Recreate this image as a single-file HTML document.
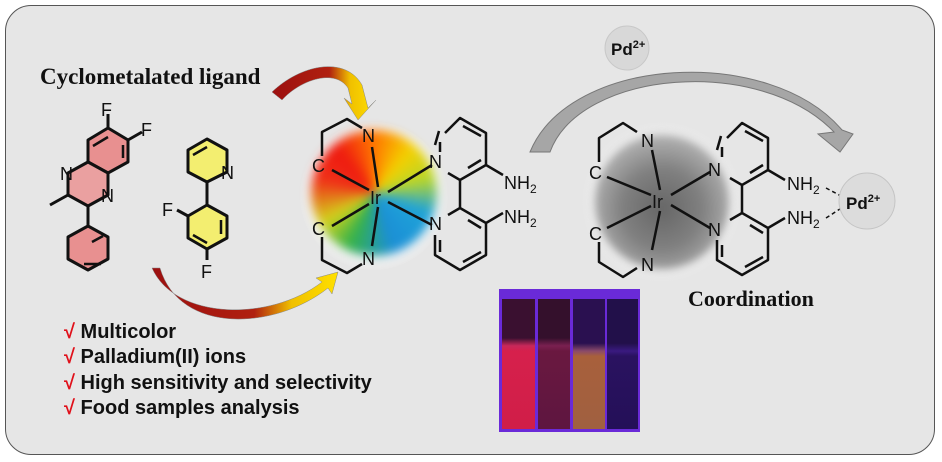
<!DOCTYPE html>
<html><head><meta charset="utf-8"><style>
html,body{margin:0;padding:0;background:#fff;}
#w{position:relative;width:942px;height:462px;overflow:hidden;background:#fff;font-family:"Liberation Sans",sans-serif;}
.abs{position:absolute;}
</style></head><body><div id="w">
<div class="abs" style="left:5px;top:5px;width:928px;height:448px;border:1.5px solid #555;border-radius:26px;background:#e6e6e6;"></div>
<div class="abs" style="left:300px;top:122px;width:148px;height:148px;border-radius:50%;background:radial-gradient(circle,#f4f4f4 60%,rgba(240,240,240,0) 72%);"></div>
<div class="abs" style="left:311px;top:130px;width:126px;height:126px;border-radius:50%;background:conic-gradient(from 0deg,#f70 0deg,#f4d000 40deg,#b9d62a 75deg,#1fa3d8 110deg,#1b8fd6 160deg,#35b24a 205deg,#d3d21c 240deg,#f03018 285deg,#ee1a10 320deg,#f70 360deg);filter:blur(5px);"></div>
<div class="abs" style="left:582px;top:122px;width:160px;height:160px;border-radius:50%;background:radial-gradient(circle,#ececec 55%,rgba(230,230,230,0) 72%);"></div>
<div class="abs" style="left:595px;top:135px;width:134px;height:134px;border-radius:50%;background:radial-gradient(circle at 50% 55%,#666 0%,#808080 40%,#b5b5b5 75%,#dcdcdc 100%);filter:blur(4px);"></div>
<div class="abs" style="left:499px;top:289px;width:141px;height:143px;background:#6a2ad8;">
 <div class="abs" style="left:3px;top:10px;width:33px;height:130px;background:linear-gradient(#3a1030 0,#3a1030 30%,#c8285a 36%,#d6204c 40%,#d01e48 100%);"></div>
 <div class="abs" style="left:39px;top:10px;width:32px;height:130px;background:linear-gradient(#34102c 0,#34102c 30%,#7a2050 36%,#6a1840 40%,#5e1640 100%);"></div>
 <div class="abs" style="left:74px;top:10px;width:32px;height:130px;background:linear-gradient(#2a1050 0,#2a1050 34%,#8a4a6a 40%,#a8603c 44%,#a06040 100%);"></div>
 <div class="abs" style="left:108px;top:10px;width:31px;height:130px;background:linear-gradient(#22104a 0,#22104a 34%,#3a1a80 40%,#2a1260 44%,#241058 100%);"></div>
</div>
<svg class="abs" style="left:0;top:0" width="942" height="462" viewBox="0 0 942 462">
<defs>
<linearGradient id="ry1" x1="0" y1="0" x2="1" y2="0"><stop offset="0" stop-color="#9c1010"/><stop offset="0.55" stop-color="#b02010"/><stop offset="0.75" stop-color="#f0c000"/><stop offset="1" stop-color="#ffe000"/></linearGradient>
</defs>
<path d="M272,92 C300,65 345,55 362,85 L368,108 L376,100 L358,120 L344,98 L352,104 L348,88 C335,68 300,80 282,100 Z" fill="url(#ry1)" stroke="#888" stroke-width="0.5"/>
<path d="M152,268 C175,320 270,322 322,282 L316,278 L338,272 L332,294 L328,288 C275,330 180,335 160,268 Z" fill="url(#ry1)" stroke="#888" stroke-width="0.5"/>
<path d="M550,152 C580,70 760,55 834,132 L818,134 L840,152 L853,134 L842,130 C770,45 570,55 530,152 Z" fill="#a6a6a6" stroke="#777" stroke-width="1"/>
<circle cx="627" cy="48" r="22" fill="#d8d8d8" stroke="#c8c8c8"/>
<text x="611" y="55" font-size="17" font-weight="bold" fill="#111">Pd<tspan font-size="11" dy="-7">2+</tspan></text>
<g fill="none" stroke="#111" stroke-width="3" stroke-linejoin="round">
<polygon points="88,140 108,128 128,140 128,162 108,173 88,162" fill="#e89090" stroke="#111"/>
<polygon points="88,162 108,173 108,195 88,206 68,195 68,173" fill="#eaa0a0"/>
<polygon points="88,226 108,237 108,259 88,270 68,259 68,237" fill="#e89090"/>
<path d="M108,128 V114 M128,140 L142,132 M68,195 L50,205 M88,206 V226"/>
<path d="M93,146 L108,137 M123,145 V158 M92,242 L103,236 M101,264 L84,264" stroke-width="2.5"/>
<polygon points="188,150 207,139 227,150 227,172 207,182 188,172" fill="#f3ee70"/>
<polygon points="188,216 207,205 227,216 227,238 207,249 188,238" fill="#f3ee70"/>
<path d="M207,182 V205 M188,216 L177,210 M207,249 V260"/>
<path d="M193,155 L207,147 M221,220 V234 M193,235 L207,243" stroke-width="2.5"/>
<g stroke-width="2.5">
<path d="M322,156 V132 L347,119 L362,128 M322,237 V260 L347,273 L362,264"/>
<path d="M378,187 L372,147 M378,207 L372,246 M332,170 L369,190 M332,226 L369,204 M388,192 L432,165 M388,202 L432,225"/>
</g>
<g transform="translate(-282,-5)" stroke-width="2.5">
<path d="M727,138 L742,123 L768,138 L768,170 L742,185 L730,178 M742,185 V213 M742,213 L768,228 L768,260 L742,275 L717,260 L717,240 M730,220 L742,213 M721,136 L717,150 M768,170 L785,180 M768,228 L785,218"/>
<path d="M745,131 L763,141 M763,165 L750,173 M763,233 L750,225 M745,267 L763,257 M722,245 V257 M722,147 V157"/>
</g>
<g stroke-width="2.5">
<path d="M599,162 V138 L623,123 L637,132 M599,242 V262 L623,277 L637,268"/>
<path d="M660,190 L652,150 M660,211 L652,250 M607,177 L651,195 M607,228 L651,206 M671,195 L710,172 M671,205 L710,228"/>
<path d="M727,138 L742,123 L768,138 L768,170 L742,185 L730,178 M742,185 V213 M742,213 L768,228 L768,260 L742,275 L717,260 L717,240 M730,220 L742,213 M721,136 L717,150 M768,170 L785,180 M768,228 L785,218"/>
<path d="M745,131 L763,141 M763,165 L750,173 M763,233 L750,225 M745,267 L763,257 M722,245 V257 M722,147 V157"/>
</g>
<path d="M826,188 L843,197 M826,218 L843,207" stroke-width="1.5" stroke-dasharray="4,3"/>
</g>
<circle cx="867" cy="201" r="28" fill="#dcdcdc" stroke="#c4c4c4"/>
<g font-size="18" fill="#111" font-family="Liberation Sans,sans-serif">
<text x="101" y="116">F</text>
<text x="141" y="136">F</text>
<text x="60" y="180">N</text>
<text x="101" y="202">N</text>
<text x="221" y="179">N</text>
<text x="162" y="216">F</text>
<text x="201" y="278">F</text>
<text x="362" y="142">N</text>
<text x="312" y="172">C</text>
<text x="312" y="235">C</text>
<text x="362" y="265">N</text>
<text x="370" y="204">Ir</text>
<text x="429" y="168">N</text>
<text x="429" y="230">N</text>
<text x="504" y="189">NH<tspan font-size="12" dy="4">2</tspan></text>
<text x="504" y="223">NH<tspan font-size="12" dy="4">2</tspan></text>
<text x="641" y="147">N</text>
<text x="589" y="179">C</text>
<text x="589" y="240">C</text>
<text x="641" y="271">N</text>
<text x="652" y="208">Ir</text>
<text x="708" y="176">N</text>
<text x="708" y="236">N</text>
<text x="787" y="190">NH<tspan font-size="12" dy="4">2</tspan></text>
<text x="787" y="224">NH<tspan font-size="12" dy="4">2</tspan></text>
<text x="846" y="209" font-weight="bold" font-size="17">Pd<tspan font-size="11" dy="-7">2+</tspan></text>
</g>
<g font-family="Liberation Serif,serif" font-weight="bold" fill="#111">
<text x="40" y="84" font-size="23">Cyclometalated ligand</text>
<text x="688" y="306" font-size="22">Coordination</text>
</g>
<g font-size="20" font-weight="bold" fill="#111">
<text x="64" y="338"><tspan fill="#e0101a">√</tspan> Multicolor</text>
<text x="64" y="363"><tspan fill="#e0101a">√</tspan> Palladium(II) ions</text>
<text x="64" y="389"><tspan fill="#e0101a">√</tspan> High sensitivity and selectivity</text>
<text x="64" y="414"><tspan fill="#e0101a">√</tspan> Food samples analysis</text>
</g>
</svg>
</div></body></html>
